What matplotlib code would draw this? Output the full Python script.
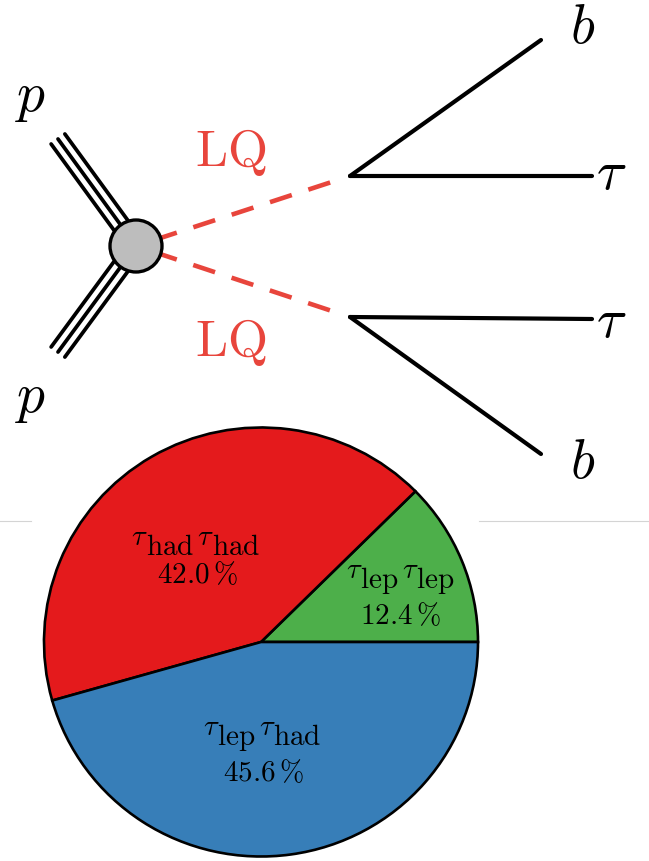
import matplotlib
matplotlib.use("Agg")
import matplotlib.pyplot as plt
import numpy as np
from matplotlib.patches import Circle

plt.rcParams['mathtext.fontset'] = 'cm'
plt.rcParams['font.family'] = ['DejaVu Serif']

# ---- data ----
fractions = [12.4, 42.0, 45.6]
sub_a = ["lep", "had", "lep"]
sub_b = ["lep", "had", "had"]
slice_colors = ['#4daf4a', '#e41a1c', '#377eb8']

W, H = 649, 862
fig = plt.figure(figsize=(W / 100, H / 100), dpi=100)
ax = fig.add_axes([0, 0, 1, 1])
ax.set_xlim(0, W)
ax.set_ylim(H, 0)
ax.axis('off')

black_lw = 3.0
red = '#e8453c'

# faint separator lines
ax.plot([0, 31], [522, 522], color='#d4d4d4', lw=0.8)
ax.plot([479, W], [522, 522], color='#d4d4d4', lw=0.8)

blob = np.array([136.0, 247.0])
vt = np.array([350.0, 177.0])
vb = np.array([350.0, 318.0])

# outgoing lines
for a, b in [(vt, (541, 41)), (vt, (592, 177)), (vb, (592, 320)), (vb, (541, 455))]:
    ax.plot([a[0], b[0]], [a[1], b[1]], color='black', lw=black_lw, solid_capstyle='round')

# proton triple lines
for end in [(58.0, 140.0), (58.0, 353.0)]:
    end = np.array(end)
    d = end - blob
    d = d / np.linalg.norm(d)
    perp = np.array([-d[1], d[0]])
    for k in (-1, 0, 1):
        off = perp * 8.5 * k
        p0 = blob + off
        p1 = end + off
        ax.plot([p0[0], p1[0]], [p0[1], p1[1]], color='black', lw=2.7, solid_capstyle='round')

# dashed LQ lines
for v in (vt, vb):
    d = v - blob
    L = np.linalg.norm(d)
    u = d / L
    p0 = blob + u * 20
    p1 = v - u * 16
    ax.plot([p0[0], p1[0]], [p0[1], p1[1]], color=red, lw=3.3,
            dashes=(5.0, 3.8), solid_capstyle='butt', dash_capstyle='butt')

ax.add_patch(Circle(blob, 26, facecolor='#bdbdbd', edgecolor='black', lw=2.4, zorder=5))

# labels of the diagram
ax.text(31, 97, r"$p$", fontsize=40, ha='center', va='center')
ax.text(31, 398, r"$p$", fontsize=40, ha='center', va='center')
ax.text(583, 28, r"$b$", fontsize=40, ha='center', va='center')
ax.text(583, 463, r"$b$", fontsize=40, ha='center', va='center')
ax.text(611, 174, r"$\tau$", fontsize=40, ha='center', va='center')
ax.text(611, 322, r"$\tau$", fontsize=40, ha='center', va='center')
ax.text(231, 152, r"$\mathrm{LQ}$", fontsize=37, ha='center', va='center', color=red)
ax.text(231, 343, r"$\mathrm{LQ}$", fontsize=37, ha='center', va='center', color=red)

# ---- pie ----
cx, cy, rx, ry = 261, 643, 217, 214.5
pax = fig.add_axes([(cx - rx) / W, (H - (cy + ry)) / H, 2 * rx / W, 2 * ry / H])
pax.set_facecolor('none')
wedges, _ = pax.pie(fractions, colors=slice_colors, startangle=0, counterclock=True,
                    wedgeprops=dict(edgecolor='black', linewidth=1.9, clip_on=False))
pax.set_aspect('auto')
pax.set_xlim(-1, 1)
pax.set_ylim(-1, 1)
pax.axis('off')

renderer = fig.canvas.get_renderer()


def text_width(s, size):
    t = fig.text(0, 0, s, fontsize=size)
    w = t.get_window_extent(renderer).width
    t.remove()
    return w


name_base = [(0.641, 0.256), (-0.300, 0.410), (0.005, -0.476)]
pct_pos = [(0.641, 0.126), (-0.295, 0.317), (0.009, -0.606)]
tau_size, sub_size = 20.5, 21
raise_pt = 7.0
gap_px = 3.0
tight_px = -2.0
px2pt = 72.0 / 100.0
for (x1, y1), (x2, y2), a, b, f in zip(name_base, pct_pos, sub_a, sub_b, fractions):
    pieces = [(r"$\tau$", tau_size, raise_pt, 0.0),
              (r"$\mathrm{%s}$" % a, sub_size, 0.0, tight_px),
              (r"$\tau$", tau_size, raise_pt, gap_px),
              (r"$\mathrm{%s}$" % b, sub_size, 0.0, tight_px)]
    widths = [text_width(s, sz) for s, sz, _, _ in pieces]
    total = sum(widths) + sum(g for _, _, _, g in pieces)
    xoff = -total / 2.0
    for (s, sz, dy, g), w in zip(pieces, widths):
        xoff += g
        pax.annotate(s, xy=(x1, y1), xycoords='data', xytext=(xoff * px2pt, dy),
                     textcoords='offset points', fontsize=sz, ha='left', va='baseline',
                     annotation_clip=False)
        xoff += w
    pax.text(x2, y2, r"$%.1f\,\%%$" % f, fontsize=sub_size, ha='center', va='center')

fig.savefig("out.png", dpi=100)
